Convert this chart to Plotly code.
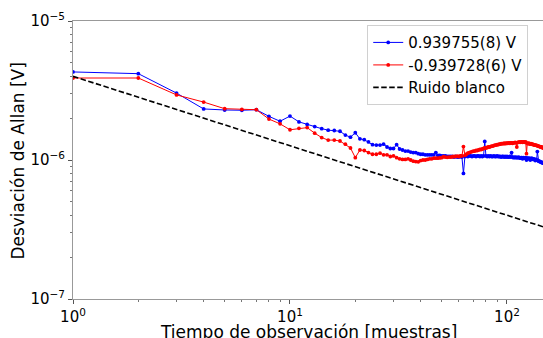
import plotly.graph_objects as go

# ---- data ----
tau = list(range(1, 151))  # observation time [samples]

blue_uV = [
    4.30, 4.18, 3.03, 2.33, 2.29, 2.28, 2.30, 2.06, 1.90, 2.07,
    1.88, 1.80, 1.74, 1.68, 1.64, 1.63, 1.61, 1.51, 1.46, 1.57,
    1.42, 1.40, 1.35, 1.29, 1.28, 1.28, 1.30, 1.24, 1.21, 1.21,
    1.29, 1.20, 1.18, 1.16, 1.16, 1.14, 1.13, 1.13, 1.11, 1.10,
    1.10, 1.09, 1.09, 1.09, 1.09, 1.09, 1.13, 1.08, 1.08, 1.07,
    1.07, 1.07, 1.06, 1.06, 1.06, 1.06, 1.05, 1.06, 1.05, 1.05,
    1.06, 1.05, 0.80, 1.06,
    1.07, 1.06, 1.07, 1.07, 1.06, 1.07, 1.07, 1.06, 1.07, 1.07, 1.06, 1.07, 1.06, 1.07,
    1.36,
    1.07, 1.06, 1.07, 1.06, 1.07, 1.06, 1.06, 1.07, 1.06, 1.06, 1.07, 1.06, 1.06,
    1.06, 1.05, 1.06, 1.06, 1.05, 1.06, 1.05, 1.06, 1.05, 1.05, 1.06, 1.05,
    1.13,
    1.05, 1.04, 1.05, 1.04, 1.05, 1.04, 1.04, 1.05, 1.04, 1.03, 1.04, 1.04, 1.02, 1.04, 1.03,
    1.03, 1.04, 1.00, 1.03, 1.03, 1.02, 1.03, 1.00, 1.02, 1.03, 1.02, 1.01, 1.02, 1.01,
    0.99, 1.01, 1.00,
    1.15,
    0.99, 0.98, 0.98, 0.97, 0.97, 0.96, 0.96, 0.95, 0.95, 0.95, 0.94, 0.94,
]

red_uV = [
    3.89, 3.89, 2.94, 2.61, 2.34, 2.31, 2.30, 1.97, 1.82, 1.65,
    1.69, 1.71, 1.56, 1.45, 1.39, 1.39, 1.37, 1.30, 1.22, 1.04,
    1.18, 1.17, 1.13, 1.10, 1.10, 1.12, 1.09, 1.09, 1.06, 1.07,
    1.04, 1.02, 1.01, 1.01, 1.02, 1.00, 0.98, 0.975, 0.97, 0.99,
    1.00, 1.00, 1.01, 1.02, 1.02, 1.03, 1.03, 1.03, 1.035, 1.04,
    1.055, 1.05, 1.045, 1.05, 1.05, 1.055, 1.06, 1.06, 1.065, 1.06,
    1.07, 1.07, 1.25, 1.08, 1.10, 1.12, 1.13, 1.14, 1.15, 1.16,
    1.16, 1.17, 1.17, 1.18, 1.19, 1.19, 1.20, 1.21, 1.22, 1.22,
    1.23, 1.24, 1.24, 1.25, 1.26, 1.26, 1.27, 1.28, 1.28, 1.29,
    1.29, 1.30, 1.30, 1.31, 1.31, 1.31, 1.32, 1.31, 1.32, 1.32,
    1.32, 1.33, 1.32, 1.33, 1.33, 1.32, 1.33, 1.33, 1.34, 1.33,
    1.24,
    1.34, 1.34, 1.35, 1.34, 1.35, 1.35, 1.34, 1.35, 1.35, 1.34, 1.35,
    1.11,
    1.32, 1.31, 1.32, 1.31, 1.30, 1.31, 1.30, 1.30, 1.29, 1.29, 1.28, 1.28,
    1.28, 1.27, 1.27, 1.26, 1.26, 1.25, 1.25, 1.24, 1.24, 1.23, 1.23, 1.22,
    1.22, 1.21, 1.21,
]

white_x = [1, 150]
white_y = [4.0e-6, 3.27e-7]

labels = ["0.939755(8) V", "-0.939728(6) V", "Ruido blanco"]
x_ticks = [1, 10, 100]
x_ticktext = ["10<sup>0</sup>", "10<sup>1</sup>", "10<sup>2</sup>"]
y_ticks = [1e-7, 1e-6, 1e-5]
y_ticktext = ["10<sup>\u22127</sup>", "10<sup>\u22126</sup>", "10<sup>\u22125</sup>"]

blue = [v * 1e-6 for v in blue_uV]
red = [v * 1e-6 for v in red_uV]

FONT = "DejaVu Sans"

fig = go.Figure()
fig.add_trace(go.Scatter(
    x=tau[:len(blue)], y=blue, mode="lines+markers", name=labels[0],
    line=dict(color="#0000ff", width=1), marker=dict(color="#0000ff", size=3.8),
))
fig.add_trace(go.Scatter(
    x=tau[:len(red)], y=red, mode="lines+markers", name=labels[1],
    line=dict(color="#ff0000", width=1), marker=dict(color="#ff0000", size=3.8),
))
fig.add_trace(go.Scatter(
    x=white_x, y=white_y, mode="lines", name=labels[2],
    line=dict(color="black", width=1.6, dash="5.5px,2.5px"),
))

minor_x = [m * d for d in (1, 10, 100) for m in range(2, 10)]
minor_y = [m * d for d in (1e-7, 1e-6) for m in range(2, 10)]

fig.update_layout(
    width=543, height=338,
    margin=dict(l=73, r=0, t=21, b=39),
    paper_bgcolor="white", plot_bgcolor="white",
    font=dict(family=FONT, size=15, color="black"),
    showlegend=True,
    legend=dict(
        x=0.626, y=0.985, xanchor="left", yanchor="top",
        bgcolor="rgba(255,255,255,0.8)", bordercolor="#d0d0d0", borderwidth=1,
        font=dict(family=FONT, size=15), tracegroupgap=0,
    ),
    xaxis=dict(
        type="log", range=[0, 2.166],
        tickvals=x_ticks, ticktext=x_ticktext,
        ticks="outside", ticklen=4, tickcolor="#555",
        showgrid=False, zeroline=False,
        showline=True, linecolor="#999", linewidth=1, mirror=True,
        minor=dict(tickvals=minor_x, ticks="outside", ticklen=2, tickcolor="#777", showgrid=False),
        tickfont=dict(family=FONT, size=15),
    ),
    yaxis=dict(
        type="log", range=[-7, -5],
        tickvals=y_ticks, ticktext=y_ticktext,
        ticks="outside", ticklen=4, tickcolor="#555",
        showgrid=False, zeroline=False,
        showline=True, linecolor="#999", linewidth=1, mirror=False,
        minor=dict(tickvals=minor_y, ticks="outside", ticklen=2, tickcolor="#777", showgrid=False),
        tickfont=dict(family=FONT, size=15),
    ),
    annotations=[
        dict(text="Tiempo de observación [muestras]", xref="paper", yref="paper",
             x=0.5, y=-0.118, xanchor="center", yanchor="middle", showarrow=False,
             font=dict(family=FONT, size=17)),
        dict(text="Desviación de Allan [V]", xref="paper", yref="paper",
             x=-0.116, y=0.496, xanchor="center", yanchor="middle", showarrow=False,
             textangle=-90, font=dict(family=FONT, size=17)),
    ],
)

fig.write_html(
    "out.html",
    config={"displayModeBar": False},
    post_script="document.body.style.margin='0';document.body.style.overflow='hidden';",
)
